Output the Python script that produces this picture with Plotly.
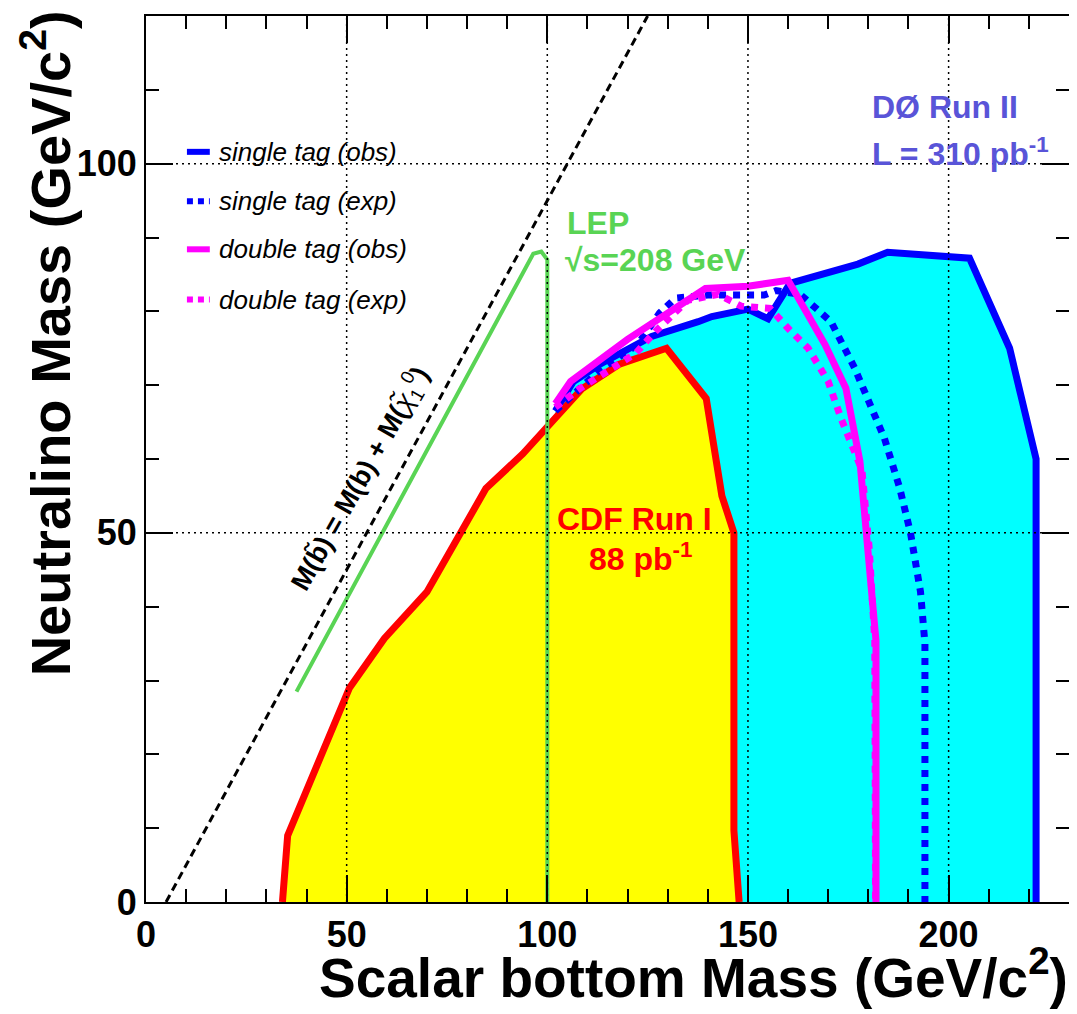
import plotly.graph_objects as go

# limites
cdf_x = [34, 35.3, 50.7, 59.4, 70, 84.7, 93.9, 100, 108.6, 117.8, 129.7, 139.6, 143.5, 146.5, 146.5, 147.8]
cdf_y = [0, 9, 29, 35.7, 42, 56, 60.7, 64.5, 69.5, 72.8, 75, 68.2, 55, 50, 9.7, 0]

single_obs_x = [102, 106.5, 113, 126, 137.6, 141, 150, 155, 160.5, 177.4, 184.8, 205.2, 215.2, 221.8, 221.8]
single_obs_y = [66.5, 70.5, 72.8, 76.6, 78.6, 79.3, 80.3, 79, 83.8, 86.4, 88, 87.2, 75, 60, 0]

single_exp_x = [102, 113, 122.5, 128, 132, 140, 154, 157, 163, 170.7, 176.6, 180.6, 184, 187.8, 190.5, 193, 194.1, 194.1]
single_exp_y = [66.5, 72, 75.5, 79.8, 81.8, 82.2, 82.2, 82.8, 82.3, 78.6, 72.3, 67, 62.8, 56.1, 50, 42, 35, 0]

double_obs_x = [102, 105.8, 120, 139.4, 150, 160, 169.2, 174.4, 177.9, 181.9, 181.9]
double_obs_y = [67.5, 70.5, 76.2, 83.1, 83.4, 84.2, 75.5, 69.6, 59.7, 35.4, 0]

double_exp_x = [102, 108, 122, 127, 135, 142.6, 148.3, 155.5, 160, 165, 170, 173.2, 178.4, 180.2, 181.6, 181.8]
double_exp_y = [67, 69.5, 74.3, 77.3, 81.5, 82.3, 80.7, 80.4, 77.7, 75, 70.5, 65.5, 58.5, 48, 35.4, 0]

lep_x = [37.5, 96.5, 98.5, 100, 100]
lep_y = [28.5, 87.8, 88.1, 87, 0]

# M(sbottom) = M(b) + M(chi)
kin_x = [5, 125]
kin_y = [0, 120]

grid_x = [50, 100, 150, 200]
grid_y = [50, 100]

legend_names = ["single tag (obs)", "single tag (exp)", "double tag (obs)", "double tag (exp)"]

FONT = "Liberation Sans, Arial, Helvetica, sans-serif"
BLUE = "#0000ff"
MAG = "#ff00ff"
RED = "#ff0000"
GREEN = "#59d454"
VIOLET = "#5954d8"

fig = go.Figure()

fig.add_trace(go.Scatter(x=single_obs_x, y=single_obs_y, mode="lines", fill="tozeroy",
                         fillcolor="#00ffff", line=dict(color=BLUE, width=7)))
fig.add_trace(go.Scatter(x=cdf_x, y=cdf_y, mode="lines", fill="tozeroy",
                         fillcolor="#ffff00", line=dict(color=RED, width=7)))
fig.add_trace(go.Scatter(x=lep_x, y=lep_y, mode="lines", line=dict(color=GREEN, width=4)))
fig.add_trace(go.Scatter(x=kin_x, y=kin_y, mode="lines",
                         line=dict(color="black", width=3, dash="8px,5px")))
fig.add_trace(go.Scatter(x=single_exp_x, y=single_exp_y, mode="lines",
                         line=dict(color=BLUE, width=7, dash="7px,7px")))
fig.add_trace(go.Scatter(x=double_obs_x, y=double_obs_y, mode="lines",
                         line=dict(color=MAG, width=7)))
fig.add_trace(go.Scatter(x=double_exp_x, y=double_exp_y, mode="lines",
                         line=dict(color=MAG, width=7, dash="7px,7px")))

# grade pontilhada por cima das áreas
shapes = []
for gx in grid_x:
    shapes.append(dict(type="line", xref="x", yref="y", x0=gx, x1=gx, y0=0, y1=120, layer="above",
                       line=dict(color="black", width=1.5, dash="2px,4px")))
for gy in grid_y:
    shapes.append(dict(type="line", xref="x", yref="y", x0=0, x1=230, y0=gy, y1=gy, layer="above",
                       line=dict(color="black", width=1.5, dash="2px,4px")))

# legenda manual
leg_colors = [BLUE, BLUE, MAG, MAG]
leg_dash = ["solid", "6px,5px", "solid", "6px,5px"]
leg_rows = [101.6, 94.9, 88.4, 81.6]
annotations = []
for name, c, d, yy in zip(legend_names, leg_colors, leg_dash, leg_rows):
    shapes.append(dict(type="line", xref="x", yref="y", x0=10.2, x1=15.9, y0=yy, y1=yy, layer="above",
                       line=dict(color=c, width=6, dash=d)))
    annotations.append(dict(x=17.6, y=yy, xref="x", yref="y", text=f"<i>{name}</i>", showarrow=False,
                            xanchor="left", yanchor="middle", font=dict(family=FONT, size=26, color="black")))

big = dict(family=FONT, size=32)
annotations += [
    dict(x=180.4, y=107.7, text="<b>DØ Run II</b>", font=dict(big, color=VIOLET)),
    dict(x=180.4, y=101.6, text="<b>L = 310 pb<sup>-1</sup></b>", font=dict(big, color=VIOLET)),
    dict(x=104.3, y=91.9, text="<b>LEP</b>", font=dict(big, color=GREEN)),
    dict(x=103.8, y=87.0, text="<b>√s=208 GeV</b>", font=dict(big, color=GREEN)),
]
for a in annotations[-4:]:
    a.update(xref="x", yref="y", showarrow=False, xanchor="left", yanchor="middle")
annotations += [
    dict(x=121.7, y=51.9, xref="x", yref="y", text="<b>CDF Run I</b>", showarrow=False,
         font=dict(big, color=RED)),
    dict(x=123.3, y=46.7, xref="x", yref="y", text="<b>88 pb<sup>-1</sup></b>", showarrow=False,
         font=dict(big, color=RED)),
    dict(x=53.4, y=57.4, xref="x", yref="y", textangle=-60.5, showarrow=False,
         text="<b>M(b̃) = M(b) + M(</b><i>χ̃</i><sub>1</sub><sup>0</sup><b>)</b>",
         font=dict(family=FONT, size=27, color="black")),
    dict(x=1.001, y=-0.04, xref="paper", yref="paper", xanchor="right", yanchor="top", showarrow=False,
         text="<b>Scalar bottom Mass (GeV/c<sup>2</sup>)</b>", font=dict(family=FONT, size=55, color="black")),
    dict(x=-0.108, y=1.009, xref="paper", yref="paper", xanchor="center", yanchor="top", showarrow=False,
         textangle=-90, text="<b>Neutralino Mass (GeV/c<sup>2</sup>)</b>",
         font=dict(family=FONT, size=56, color="black")),
]

axis_common = dict(
    showgrid=False, zeroline=False, showline=True, linecolor="black", linewidth=2, mirror="ticks",
    ticks="inside", ticklen=27, tickwidth=1.5, tickcolor="black", dtick=50, tick0=0,
    minor=dict(ticks="inside", ticklen=13, tickwidth=1.5, tickcolor="black", dtick=10, showgrid=False),
    tickfont=dict(family=FONT, size=36, color="black", weight="bold"),
    layer="above traces",
)

# a página tem margem de 8px, por isso a figura é um pouco menor
fig.update_layout(
    width=1069, height=1006,
    margin=dict(l=138, r=6, t=7, b=112),
    plot_bgcolor="white", paper_bgcolor="white",
    showlegend=False,
    xaxis=dict(axis_common, range=[0, 230]),
    yaxis=dict(axis_common, range=[0, 120]),
    shapes=shapes,
    annotations=annotations,
)

fig.write_html("out.html")
